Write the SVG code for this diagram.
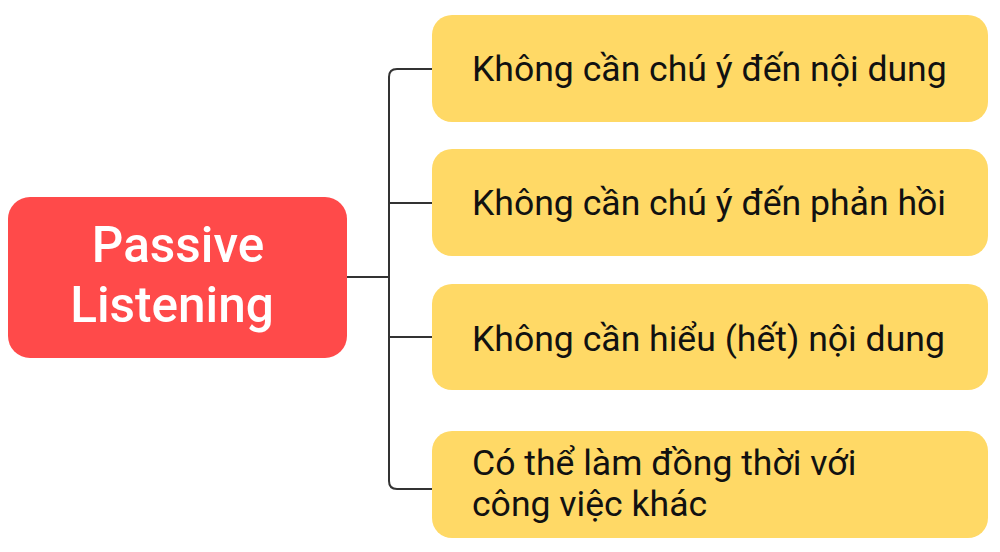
<svg xmlns="http://www.w3.org/2000/svg" width="1000" height="552" viewBox="0 0 1000 552">
<style>
.root{fill:#FF4A4A}
.leaf{fill:#FFD966}
.rt{font-family:Roboto,"Noto Sans",sans-serif;font-weight:500;font-size:49.5px;fill:#FFFFFF;text-anchor:middle}
.lt{font-family:Roboto,"Noto Sans",sans-serif;font-weight:400;font-size:35.6px;fill:#111111}
.con{fill:none;stroke:#333333;stroke-width:2}
</style>
<rect width="1000" height="552" fill="#FFFFFF"/>
<g id="connectors">
<path class="con" d="M347 277 H389"/>
<path class="con" d="M432 69 H397 Q389 69 389 77 V481 Q389 489 397 489 H432"/>
<path class="con" d="M389 203 H432"/>
<path class="con" d="M389 337 H432"/>
</g>
<g id="root">
<rect class="root" x="8" y="197" width="339" height="161" rx="22"/>
<text class="rt" x="178" y="262">Passive</text>
<text class="rt" x="172" y="322">Listening</text>
</g>
<g id="n1">
<rect class="leaf" x="432" y="15" width="556" height="107" rx="20"/>
<text class="lt" x="472" y="81">Không cần chú ý đến nội dung</text>
</g>
<g id="n2">
<rect class="leaf" x="432" y="149" width="556" height="107" rx="20"/>
<text class="lt" x="472" y="215">Không cần chú ý đến phản hồi</text>
</g>
<g id="n3">
<rect class="leaf" x="432" y="284" width="556" height="106" rx="20"/>
<text class="lt" x="472" y="351">Không cần hiểu (hết) nội dung</text>
</g>
<g id="n4">
<rect class="leaf" x="432" y="431" width="556" height="107" rx="20"/>
<text class="lt" x="472" y="475">Có thể làm đồng thời với</text>
<text class="lt" x="472" y="516">công việc khác</text>
</g>
</svg>
